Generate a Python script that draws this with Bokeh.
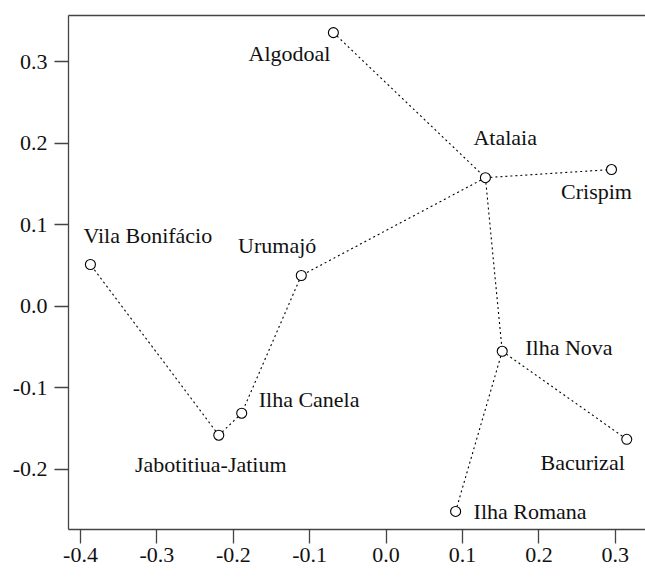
from bokeh.plotting import figure
from bokeh.models import Range1d, FixedTicker, PrintfTickFormatter, LinearAxis, ColumnDataSource
from bokeh.core.properties import value
from bokeh.embed import file_html
from bokeh.resources import INLINE

# ---- data ----
names = ["Algodoal", "Atalaia", "Crispim", "Vila Bonifácio", "Urumajó",
         "Ilha Nova", "Ilha Canela", "Jabotitiua-Jatium", "Bacurizal", "Ilha Romana"]
xs = [-0.069, 0.130, 0.295, -0.387, -0.111, 0.152, -0.189, -0.219, 0.315, 0.091]
ys = [0.336, 0.158, 0.168, 0.0515, 0.038, -0.055, -0.131, -0.158, -0.163, -0.2515]
edges = [("Algodoal", "Atalaia"), ("Atalaia", "Crispim"), ("Atalaia", "Urumajó"),
         ("Atalaia", "Ilha Nova"), ("Urumajó", "Ilha Canela"),
         ("Ilha Canela", "Jabotitiua-Jatium"), ("Jabotitiua-Jatium", "Vila Bonifácio"),
         ("Ilha Nova", "Bacurizal"), ("Ilha Nova", "Ilha Romana")]
x_ticks = [-0.4, -0.3, -0.2, -0.1, 0.0, 0.1, 0.2, 0.3]
y_ticks = [-0.2, -0.1, 0.0, 0.1, 0.2, 0.3]

# ---- label styling (screen offsets, px) ----
label_align = ["right", "left", "center", "left", "right", "left", "left", "center", "right", "left"]
label_dx = [-3, -12, -15, -7, 15, 23, 17, -8, -2, 18]
label_dy = [21, -40, 22, -29, -30, -4, -14, 29, 23, 0]

FONT = "Liberation Serif"
W, H = 645, 577
left_b, top_b, bot_b = 68, 15, 48
px_x, px_y = 764.0, 815.0
x0 = -0.4157
x1 = x0 + (W - left_b) / px_x
y1 = 0.357
y0 = y1 - (H - top_b - bot_b) / px_y

p = figure(width=W, height=H, output_backend="svg", toolbar_location=None,
           x_range=Range1d(x0, x1), y_range=Range1d(y0, y1),
           min_border_left=left_b, min_border_right=0, min_border_top=top_b,
           min_border_bottom=bot_b)
p.grid.visible = False
p.outline_line_color = None
p.background_fill_color = "white"
p.border_fill_color = "white"

for ax, ticks in ((p.xaxis[0], x_ticks), (p.yaxis[0], y_ticks)):
    ax.ticker = FixedTicker(ticks=ticks)
    ax.formatter = PrintfTickFormatter(format="%.1f")
    ax.major_tick_in = 0
    ax.major_tick_out = 14
    ax.minor_tick_line_color = None
    ax.axis_line_color = "#444444"
    ax.axis_line_width = 1.3
    ax.major_tick_line_color = "#444444"
    ax.major_tick_line_width = 1.3
    ax.major_label_text_font = FONT
    ax.major_label_text_font_size = "22px"
    ax.major_label_text_color = "#111111"
p.xaxis[0].major_label_standoff = 4
p.yaxis[0].major_label_standoff = 7

top = LinearAxis(ticker=FixedTicker(ticks=[]), axis_line_color="#444444",
                 axis_line_width=1.3, major_tick_out=0, major_tick_in=0,
                 minor_tick_line_color=None, major_label_text_font_size="0px")
p.add_layout(top, "above")

idx = {n: i for i, n in enumerate(names)}
seg_x0 = [xs[idx[a]] for a, b in edges]
seg_y0 = [ys[idx[a]] for a, b in edges]
seg_x1 = [xs[idx[b]] for a, b in edges]
seg_y1 = [ys[idx[b]] for a, b in edges]
p.segment(seg_x0, seg_y0, seg_x1, seg_y1, line_color="black", line_width=1.1,
          line_dash="2 3")

p.scatter(xs, ys, size=10, marker="circle", fill_color="white",
          line_color="black", line_width=1.1)

src = ColumnDataSource(dict(x=xs, y=ys, t=names, a=label_align, dx=label_dx, dy=label_dy))
p.text(x="x", y="y", text="t", source=src, text_align="a", x_offset="dx", y_offset="dy",
       text_baseline="middle", text_font=value(FONT), text_font_size="22px",
       text_color="#111111")

open("out.html", "w").write(file_html(p, INLINE))
